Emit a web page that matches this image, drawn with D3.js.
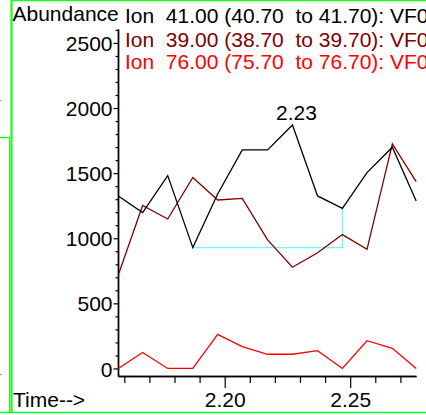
<!DOCTYPE html>
<html>
<head>
<meta charset="utf-8">
<script src="https://cdn.jsdelivr.net/npm/d3@7"></script>
<style>
  html, body { margin: 0; padding: 0; background: #fff; overflow: hidden; }
  svg { display: block; font-family: "Liberation Sans", Arial, sans-serif; }
  text { white-space: pre; }
</style>
</head>
<body>
<div id="chart"></div>
<script>
// scan times (min) and ion abundances
let scanTimes = [2.1576, 2.1673, 2.1773, 2.1873, 2.1972, 2.2070, 2.2171, 2.2270, 2.2370, 2.2469, 2.2567, 2.2668, 2.2763];
let ion41 = [1325, 1197, 1481, 928, 1340, 1678, 1678, 1870, 1325, 1230, 1504, 1699, 1286];
let ion39 = [718, 1252, 1148, 1467, 1294, 1306, 987, 777, 889, 1028, 915, 1724, 1435];
let ion76 = [0, 123, 0, 0, 262, 167, 109, 109, 137, 0, 213, 155, 0];

let legendLabels = [
  "Ion  41.00 (40.70  to 41.70): VF0",
  "Ion  39.00 (38.70  to 39.70): VF0",
  "Ion  76.00 (75.70  to 76.70): VF0"
];
let seriesColors = ["#000000", "#800000", "#ff0000"];

let yTicks = [0, 500, 1000, 1500, 2000, 2500];
let xTicks = [2.20, 2.25];

// integration baseline of the labelled peak (scan indices)
let peakStart = 3, peakEnd = 9, peakTop = 7;

let width = 426, height = 415;
let svg = d3.select("#chart").append("svg")
  .attr("width", width)
  .attr("height", height);

let xScale = d3.scaleLinear().domain([2.15749, 2.27622]).range([118, 416]);
let yScale = d3.scaleLinear().domain([-58, 2607]).range([376, 29]);

// green panel frames
let green = "#1aff1a";
svg.append("line").attr("x1", 11.5).attr("x2", 11.5).attr("y1", 0).attr("y2", 413)
  .attr("stroke", green).attr("stroke-width", 2.2);
svg.append("line").attr("x1", 12).attr("x2", width).attr("y1", 0.5).attr("y2", 0.5)
  .attr("stroke", green).attr("stroke-width", 1.5);
svg.append("line").attr("x1", 0).attr("x2", width).attr("y1", 412.5).attr("y2", 412.5)
  .attr("stroke", green).attr("stroke-width", 1.6);
svg.append("line").attr("x1", 0).attr("x2", 10).attr("y1", 137.5).attr("y2", 137.5)
  .attr("stroke", green).attr("stroke-width", 1.4);
svg.append("line").attr("x1", 9.5).attr("x2", 9.5).attr("y1", 137).attr("y2", 413)
  .attr("stroke", green).attr("stroke-width", 1);
// stray ticks of the neighbouring panel
[100.5, 374.5].forEach(function(y) {
  svg.append("line").attr("x1", 0).attr("x2", 1.5).attr("y1", y).attr("y2", y)
    .attr("stroke", "#888").attr("stroke-width", 1);
});

// y axis: major every 500, minor every 100
let yMajor = d3.axisLeft(yScale).tickValues(yTicks).tickSize(4.5).tickPadding(1)
  .tickFormat(d3.format("d")).tickSizeOuter(0);
let yMinor = d3.axisLeft(yScale).tickValues(d3.range(0, 2601, 100).filter(d => d % 500 != 0))
  .tickSize(2.5).tickFormat("").tickSizeOuter(0);

let gy = svg.append("g").attr("transform", "translate(118,0)").call(yMajor);
svg.append("g").attr("transform", "translate(118,0)").call(yMinor);

// x axis: major every 0.05, minor every 0.01
let xMajor = d3.axisBottom(xScale).tickValues(xTicks).tickSize(12).tickPadding(4)
  .tickFormat(d3.format(".2f")).tickSizeOuter(0);
let xMinor = d3.axisBottom(xScale).tickValues([2.16, 2.17, 2.18, 2.19, 2.21, 2.22, 2.23, 2.24, 2.26, 2.27])
  .tickSize(7).tickFormat("").tickSizeOuter(0);

let gx = svg.append("g").attr("transform", "translate(0,376)").call(xMajor);
svg.append("g").attr("transform", "translate(0,376)").call(xMinor);

svg.selectAll(".domain").attr("stroke", "#000").attr("stroke-width", 1.4);
svg.selectAll(".tick line").attr("stroke", "#000").attr("stroke-width", 1.2);
svg.selectAll(".tick text").attr("font-size", 21).attr("fill", "#000")
  .attr("font-family", "Liberation Sans, Arial, sans-serif");
gy.selectAll(".tick text").attr("dy", "0.36em");
gx.selectAll(".tick text").attr("dy", "0.72em");

// baseline of the integrated peak
let cyanPts = [
  [scanTimes[peakStart], ion41[peakStart]],
  [scanTimes[peakEnd], ion41[peakStart]],
  [scanTimes[peakEnd], ion41[peakEnd]]
];
svg.append("path")
  .attr("d", d3.line().x(d => xScale(d[0])).y(d => yScale(d[1]))(cyanPts))
  .attr("fill", "none").attr("stroke", "#66ffff").attr("stroke-width", 1.3);

// ion traces
let series = [ion76, ion39, ion41];
let colors = [seriesColors[2], seriesColors[1], seriesColors[0]];
let line = d3.line().x((d, i) => xScale(scanTimes[i])).y(d => yScale(d));
series.forEach(function(values, k) {
  svg.append("path")
    .attr("d", line(values))
    .attr("fill", "none")
    .attr("stroke", colors[k])
    .attr("stroke-width", 1.3)
    .attr("stroke-linejoin", "miter");
});

// retention time label on the peak
svg.append("text")
  .attr("x", xScale(scanTimes[peakTop]) + 4)
  .attr("y", yScale(ion41[peakTop]) - 4.5)
  .attr("text-anchor", "middle")
  .attr("font-size", 21)
  .text(scanTimes[peakTop].toFixed(2));

// titles
svg.append("text").attr("x", 12.5).attr("y", 21).attr("font-size", 21).text("Abundance");
svg.append("text").attr("x", 13).attr("y", 407).attr("font-size", 21).text("Time-->");

let legendY = [22.5, 46.5, 68.5];
legendLabels.forEach(function(label, i) {
  svg.append("text")
    .attr("x", 125)
    .attr("y", legendY[i])
    .attr("font-size", 21)
    .attr("fill", seriesColors[i])
    .text(label);
});
</script>
</body>
</html>
